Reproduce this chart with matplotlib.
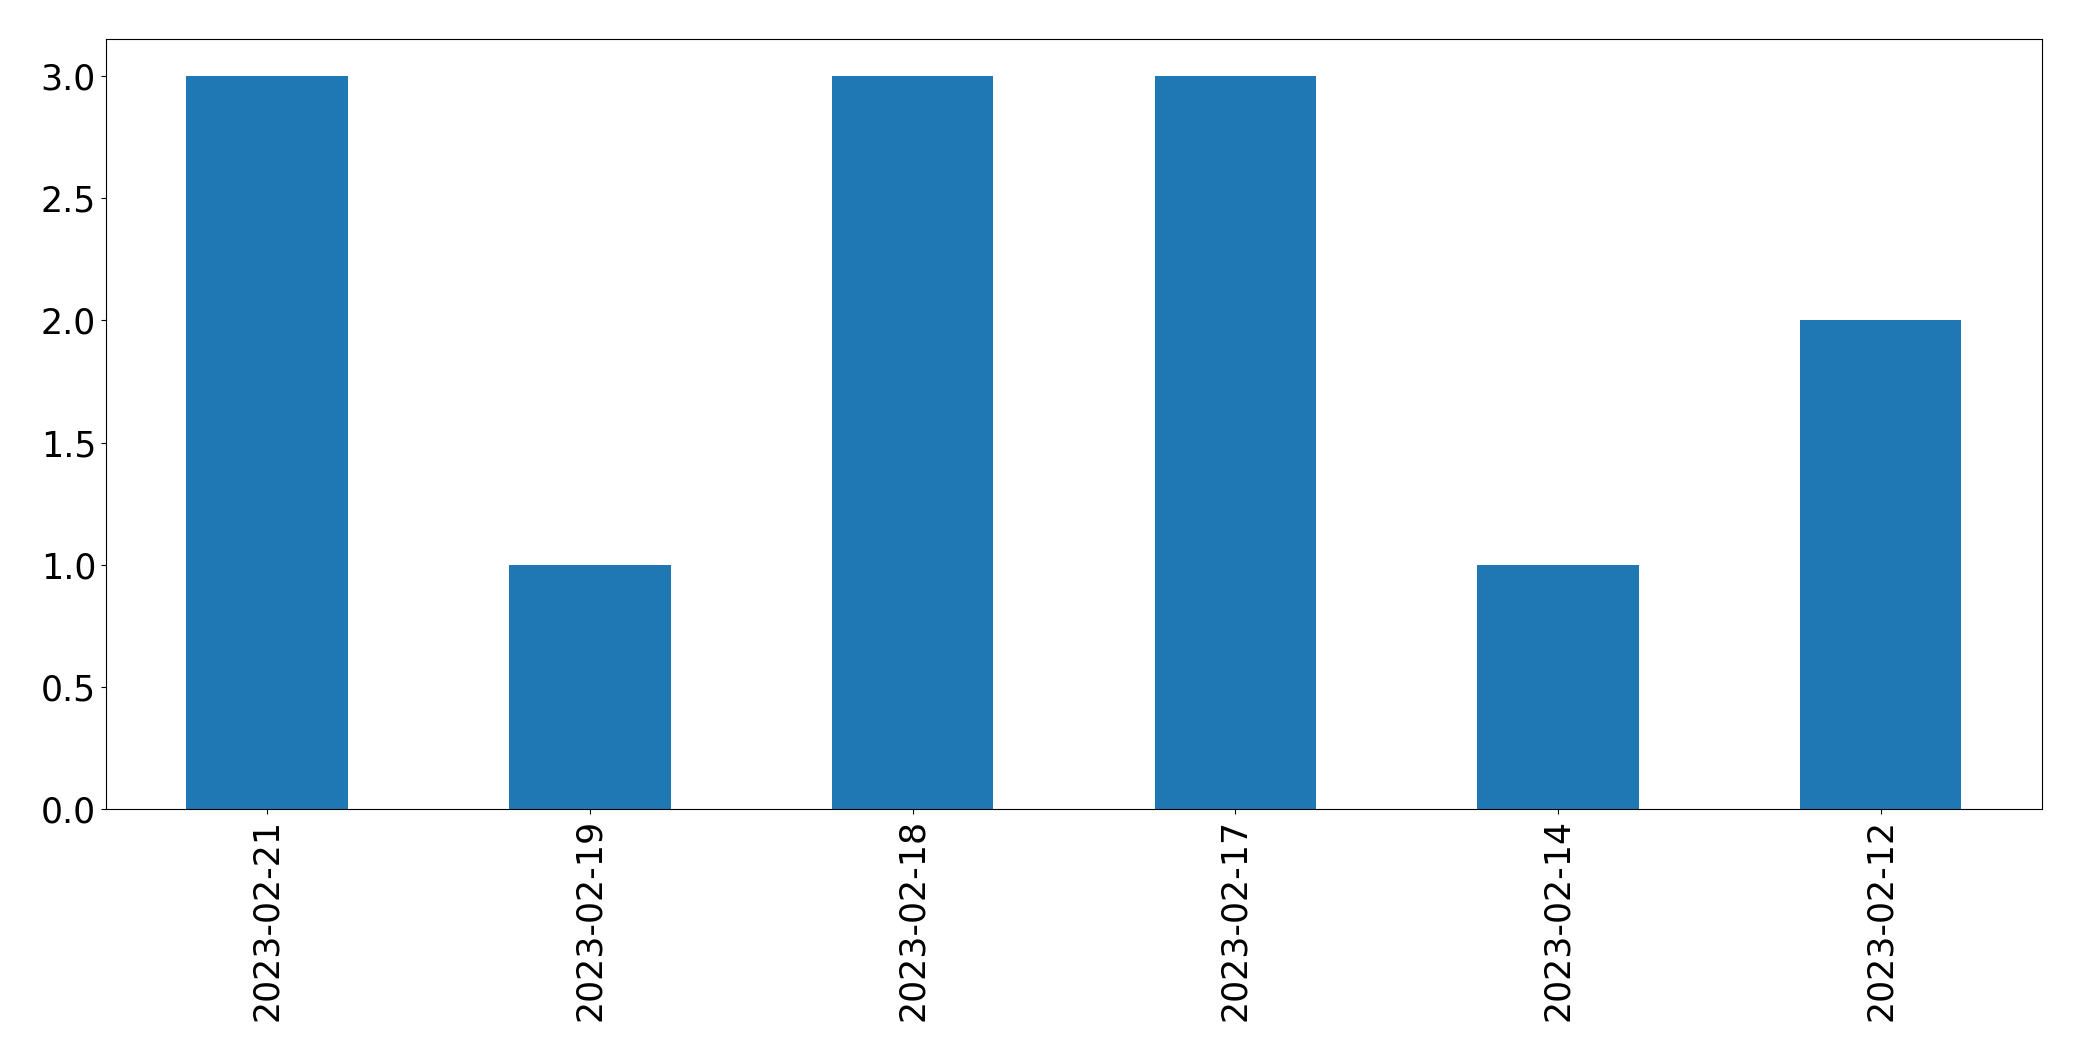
import matplotlib
matplotlib.use('Agg')
import matplotlib.pyplot as plt
import pandas as pd

dates = ['2023-02-21', '2023-02-19', '2023-02-18', '2023-02-17', '2023-02-14', '2023-02-12']
counts = [3, 1, 3, 3, 1, 2]

plt.rcParams['font.size'] = 25

df = pd.DataFrame({'count': counts}, index=dates)

fig = plt.figure(figsize=(20.82, 10.61), dpi=100)
ax = fig.add_axes([0.0508, 0.2372, 0.9300, 0.7258])
df['count'].plot(kind='bar', ax=ax, color='#1f77b4')
ax.set_xlabel('')

fig.savefig('out.png', dpi=100)
